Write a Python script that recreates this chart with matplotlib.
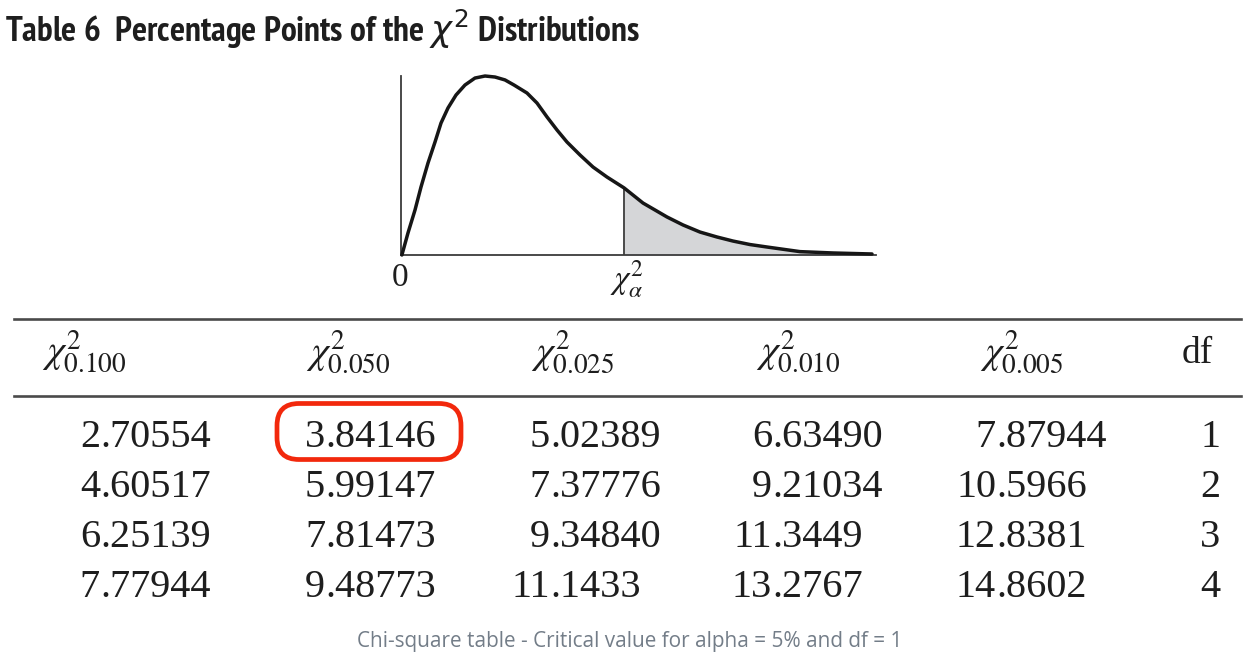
import matplotlib
matplotlib.use("Agg")
import matplotlib.pyplot as plt
from matplotlib.patches import FancyBboxPatch
from matplotlib import font_manager
from matplotlib.font_manager import FontProperties

# ---------------- data ----------------
title_text = r"Table 6  Percentage Points of the $\chi^2$ Distributions"
caption_text = "Chi-square table - Critical value for alpha = 5% and df = 1"

# density curve (x: chi-square value, y: density)
curve_x = [0.03, 0.235, 0.471, 0.672, 0.908, 1.143, 1.345, 1.580, 1.849, 2.151,
           2.487, 2.824, 3.160, 3.496, 3.798, 4.235, 4.571, 4.908, 5.244, 5.580,
           6.017, 6.454, 6.924, 7.50, 8.134, 8.538, 8.941, 9.479, 10.050, 10.622,
           11.160, 11.731, 12.303, 13.412, 14.521, 15.832]
curve_y = [0.000, 0.0196, 0.0400, 0.0604, 0.0818, 0.1004, 0.1173, 0.1307, 0.1422, 0.1511,
           0.1573, 0.1591, 0.1582, 0.1556, 0.1511, 0.1440, 0.1351, 0.1227, 0.1111, 0.1004,
           0.0889, 0.0782, 0.0693, 0.0596, 0.0462, 0.0400, 0.0338, 0.0267, 0.0204, 0.0160,
           0.0124, 0.0093, 0.0071, 0.0030, 0.0018, 0.0009]
critical_x = 7.50

col_headers = [r"$\chi^2_{0.100}$", r"$\chi^2_{0.050}$", r"$\chi^2_{0.025}$",
               r"$\chi^2_{0.010}$", r"$\chi^2_{0.005}$"]
df_header = "df"
df_values = ["1", "2", "3", "4"]
chi_0100 = ["2.70554", "4.60517", "6.25139", "7.77944"]
chi_0050 = ["3.84146", "5.99147", "7.81473", "9.48773"]
chi_0025 = ["5.02389", "7.37776", "9.34840", "11.1433"]
chi_0010 = ["6.63490", "9.21034", "11.3449", "13.2767"]
chi_0005 = ["7.87944", "10.5966", "12.8381", "14.8602"]
table_cols = [chi_0100, chi_0050, chi_0025, chi_0010, chi_0005]
highlight = (0, 1)  # (row, col) -> 3.84146

# ---------------- fonts ----------------
names = {f.name for f in font_manager.fontManager.ttflist}
serif = "Liberation Serif" if "Liberation Serif" in names else "DejaVu Serif"


def _is_bold(f):
    w = f.weight
    if isinstance(w, str):
        return w.lower() in ("bold", "semibold", "demibold", "demi", "700", "600")
    return w >= 600


def _cond_rank(f):
    nm = f.name.lower()
    fn = f.fname.lower()
    st = str(f.stretch).lower()
    if "extra" in nm or "ultra" in nm or "extra" in fn or "ultra" in fn or "extra" in st:
        return None
    if "narrow" in nm:
        return 0
    if "condensed" in nm or "condensed" in fn or "condensed" in st:
        if "semi" in nm or "semi" in fn or "semi" in st:
            return 2
        return 1
    return None


cands = []
for f in font_manager.fontManager.ttflist:
    if f.style != "normal" or not _is_bold(f):
        continue
    r = _cond_rank(f)
    if r is None:
        continue
    bonus = 0 if "dejavu" not in f.name.lower() else 5
    cands.append((r + bonus, f.fname))
cands.sort()
if cands:
    title_prop = FontProperties(fname=cands[0][1])
else:
    title_prop = FontProperties(family="DejaVu Sans", weight="bold", stretch="condensed")

# ---------------- layout ----------------
W, H = 1255, 670
plt.rcParams["mathtext.fontset"] = "stix"
fig = plt.figure(figsize=(W / 100, H / 100), dpi=100)
fig.patch.set_facecolor("white")

ax = fig.add_axes([0, 0, 1, 1])
ax.set_xlim(0, W)
ax.set_ylim(H, 0)
ax.axis("off")

# title
title_prop.set_size(22)
t_title = ax.text(5, 42, title_text, fontproperties=title_prop,
                  color="#1e1e1e", ha="left", va="baseline")

# ---------------- curve inset ----------------
px_per_x = 29.75
px_per_y = 1125.0
x0_px, base_px = 401, 255
ax2 = fig.add_axes([x0_px / W, (H - base_px) / H, 479 / W, 185 / H])
ax2.set_xlim(0, 479 / px_per_x)
ax2.set_ylim(0, 185 / px_per_y)
ax2.patch.set_alpha(0)
for s in ["top", "right"]:
    ax2.spines[s].set_visible(False)
for s in ["left", "bottom"]:
    ax2.spines[s].set_color("#3c3c3c")
    ax2.spines[s].set_linewidth(1.3)
ax2.spines["left"].set_bounds(0, 0.159)
ax2.spines["bottom"].set_bounds(0, 15.95)
ax2.set_xticks([])
ax2.set_yticks([])

ci_ = curve_x.index(critical_x)
tail_x = curve_x[ci_:]
tail_y = curve_y[ci_:]
ax2.fill_between(tail_x, 0, tail_y, color="#d5d6d8", lw=0, zorder=1)
ax2.vlines(critical_x, 0, curve_y[ci_], color="#3c3c3c", lw=1.3, zorder=2)
ax2.plot(curve_x, curve_y, color="#161616", lw=2.5, solid_joinstyle="round",
         solid_capstyle="round", zorder=3, clip_on=False)

crit_px = x0_px + critical_x * px_per_x
ax.text(400.5, 286.5, "0", family=serif, fontsize=24, ha="center", va="baseline", color="#1e1e1e")
ax.text(crit_px - 14, 288, r"$\chi^2_\alpha$", fontsize=24, ha="left", va="baseline", color="#1e1e1e")
ax.text(crit_px + 15, 245, r"$\alpha$", fontsize=24, ha="left", va="baseline", color="#1e1e1e")

# ---------------- table ----------------
rule_kw = dict(color="#4a4a4a", lw=1.9)
ax.plot([14, 1241], [319, 319], **rule_kw)
ax.plot([14, 1241], [396, 396], **rule_kw)

header_x = [42, 306, 531, 756, 980]
for hx, lab in zip(header_x, col_headers):
    ax.text(hx, 352, lab, fontsize=28, ha="left", va="center", color="#1e1e1e")
ax.text(1182, 363, df_header, family=serif, fontsize=27, ha="left", va="baseline", color="#1e1e1e")

dec_x = [100, 325, 550, 772, 996]
row_base = [447, 497, 547, 597]
for ci, col in enumerate(table_cols):
    for ri, val in enumerate(col):
        ip, fp = val.split(".")
        ax.text(dec_x[ci], row_base[ri], ip, family=serif, fontsize=29,
                ha="right", va="baseline", color="#1e1e1e")
        ax.text(dec_x[ci], row_base[ri], "." + fp, family=serif, fontsize=29,
                ha="left", va="baseline", color="#1e1e1e")
for ri, d in enumerate(df_values):
    ax.text(1220, row_base[ri], d, family=serif, fontsize=29, ha="right",
            va="baseline", color="#1e1e1e")

# highlight box around the selected cell
hr, hc = highlight
box = FancyBboxPatch((277, 403.5), 184, 56,
                     boxstyle="round,pad=0,rounding_size=22",
                     fill=False, ec="#f2280c", lw=3.4, zorder=5)
ax.add_patch(box)

# caption
cap_family = "Open Sans" if "Open Sans" in names else "DejaVu Sans"
t_cap = ax.text(630, 642, caption_text, family=cap_family, fontsize=13.5,
                ha="center", va="center", color="#737d88")

# fit widths of title and caption to the reference
fig.canvas.draw()
r = fig.canvas.get_renderer()
for t, target, fs, fsmax in [(t_title, 668, 22, 25.5), (t_cap, 546, 13.5, 16)]:
    w = t.get_window_extent(r).width
    t.set_fontsize(min(fs * target / w, fsmax))

fig.savefig("out.png", dpi=100, facecolor="white")
